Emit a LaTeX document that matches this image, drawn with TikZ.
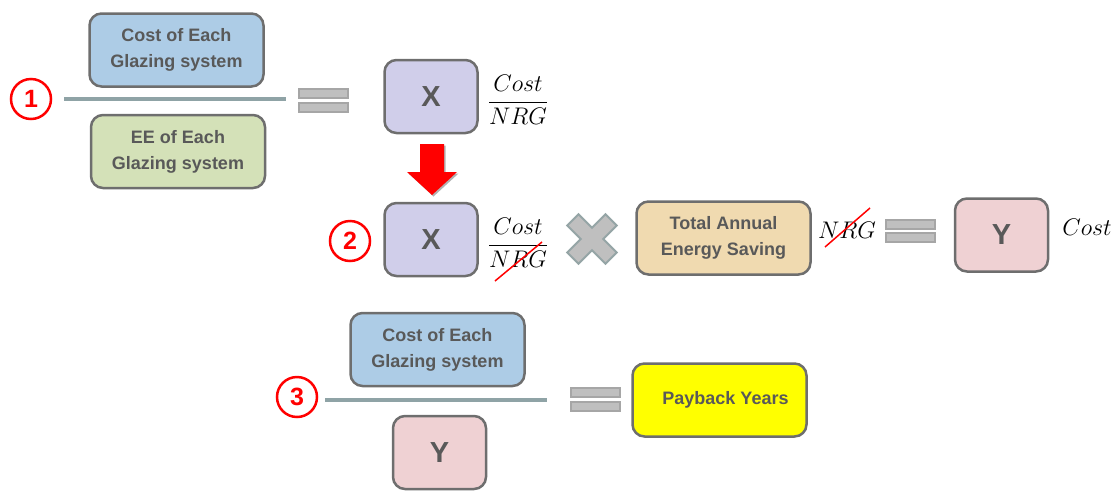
\documentclass[tikz,border=0pt]{standalone}
\usepackage{fix-cm}
\usepackage{amsmath}
\usepackage{fontspec}
\setmainfont{Liberation Sans}
\usepackage{tikz}
\usetikzlibrary{positioning}
\definecolor{txtgrey}{HTML}{595959}
\definecolor{boxline}{HTML}{6E6E6E}
\definecolor{barline}{HTML}{8FA3A6}
\definecolor{costblue}{HTML}{ADCCE6}
\definecolor{eegreen}{HTML}{D4E1B8}
\definecolor{xlilac}{HTML}{D0CEEA}
\definecolor{savetan}{HTML}{F0DAB0}
\definecolor{ypink}{HTML}{EFD1D3}
\definecolor{payyellow}{HTML}{FFFF00}
\definecolor{eqfill}{HTML}{BFBFBF}
\definecolor{eqline}{HTML}{A6A6A6}
\definecolor{timesline}{HTML}{95A5A6}

\begin{document}
\begin{tikzpicture}[x=1pt,y=-1pt,
    box/.style={draw=boxline,line width=2.5pt,rounded corners=12pt,
        minimum width=174pt,minimum height=73pt,align=center,text=txtgrey,
        font=\fontsize{18}{26}\selectfont\bfseries},
    letterbox/.style={box,minimum width=93pt,font=\fontsize{29}{30}\selectfont\bfseries},
    stepnum/.style={circle,draw=red,line width=2.5pt,fill=white,minimum size=40pt,
        inner sep=0pt,text=red,font=\fontsize{25}{26}\selectfont\bfseries},
    eqbar/.style={rectangle,draw=eqline,fill=eqfill,line width=2pt,
        minimum width=49pt,minimum height=9pt,inner sep=0pt},
    unit/.style={anchor=base,inner sep=0pt,font=\fontsize{24}{26}\selectfont},
    fracbar/.style={barline,line width=4.5pt},
    strike/.style={red,line width=1.5pt}]
    \useasboundingbox (0,0) rectangle (1117,491);

    % step 1
    \node[stepnum] (one) at (31,99) {1};
    \node[box,fill=costblue] (costa) at (176.5,50) {Cost of Each\\Glazing system};
    \node[box,fill=eegreen] (eea) at (178,151.5) {EE of Each\\Glazing system};
    \draw[fracbar] (64,99) -- (286,99);
    \node[eqbar] (eqa1) at (323.5,93.5) {};
    \node[eqbar] (eqa2) at (323.5,107.5) {};
    \node[letterbox,fill=xlilac] (xa) at (431,96.5) {X};
    \node[unit] (fraca) at (518,108) {$\dfrac{Cost}{NRG}$};

    % arrow down
    \fill[gray!60] (421.5,145.5) -- (445.5,145.5) -- (445.5,173.5) -- (458.5,173.5)
        -- (433.5,196.5) -- (408.5,173.5) -- (421.5,173.5) -- cycle;
    \fill[red] (420,144) -- (444,144) -- (444,172) -- (457,172) -- (432,195)
        -- (407,172) -- (420,172) -- cycle;

    % step 2
    \node[stepnum] (two) at (350,241) {2};
    \node[letterbox,fill=xlilac] (xb) at (431,239.5) {X};
    \node[unit] (fracb) at (518,251) {$\dfrac{Cost}{NRG}$};
    \draw[strike] (495,281) -- (542,242);
    \draw[fill=eqfill,draw=timesline,line width=2pt,shift={(592,239)},rotate=45]
        (-8,-27) -- (8,-27) -- (8,-8) -- (27,-8) -- (27,8) -- (8,8) -- (8,27)
        -- (-8,27) -- (-8,8) -- (-27,8) -- (-27,-8) -- (-8,-8) -- cycle;
    \node[box,fill=savetan] (save) at (723.5,238) {Total Annual\\Energy Saving};
    \node[unit] (nrg) at (847,238) {$NRG$};
    \draw[strike] (825,247) -- (870,208);
    \node[eqbar] (eqb1) at (910.5,224.5) {};
    \node[eqbar] (eqb2) at (910.5,237.5) {};
    \node[letterbox,fill=ypink] (yb) at (1001.5,235) {Y};
    \node[unit] (cost) at (1087,235) {$Cost$};

    % step 3
    \node[stepnum] (three) at (297,397) {3};
    \node[box,fill=costblue] (costc) at (437.5,349.5) {Cost of Each\\Glazing system};
    \draw[fracbar] (325,400) -- (547,400);
    \node[letterbox,fill=ypink] (yc) at (439.5,452.5) {Y};
    \node[eqbar] (eqc1) at (595,392.5) {};
    \node[eqbar] (eqc2) at (595,406.5) {};
    \node[box,fill=payyellow] (pay) at (719.5,400) {\hspace*{12pt}Payback Years};
\end{tikzpicture}
\end{document}
